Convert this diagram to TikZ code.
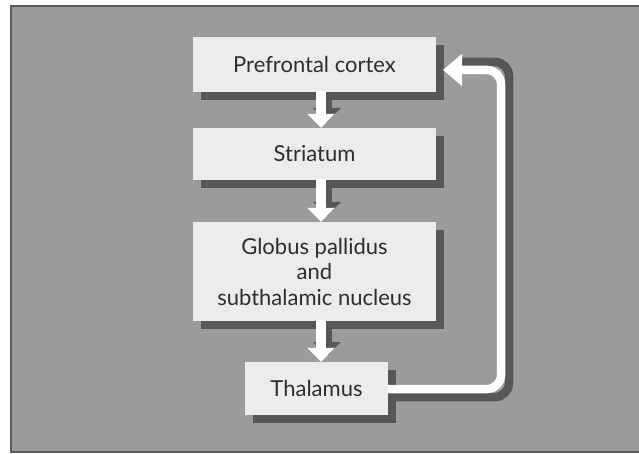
\documentclass[tikz,border=0pt]{standalone}
\usepackage{fontspec}
\setmainfont{Lato}
\usetikzlibrary{arrows.meta,shadows}
\definecolor{panelc}{HTML}{9B9B9B}
\definecolor{boxc}{HTML}{ECECEC}
\definecolor{shadc}{HTML}{575757}
\definecolor{txtc}{HTML}{2E2E2E}
\definecolor{framec}{HTML}{5A5A5A}
\tikzset{
  stagebox/.style={fill=boxc, draw=none, inner sep=0pt, align=center,
    font=\fontsize{22}{25.5}\selectfont, text=txtc,
    general shadow={fill=shadc, shadow xshift=8pt, shadow yshift=-8pt}},
  fatarrow/.style={draw=white, line width=10pt, -{Triangle[width=27pt,length=14pt]}, shorten <=-1pt},
  fatshadow/.style={draw=shadc, line width=10pt, -{Triangle[width=27pt,length=14pt]}},
  loopline/.style={draw=white, line width=8.5pt, rounded corners=14pt, -{Triangle[width=31pt,length=19pt]}},
  loopshadow/.style={draw=shadc, line width=8.5pt, rounded corners=14pt}
}
\begin{document}
\begin{tikzpicture}[x=1pt,y=-1pt]
\useasboundingbox (0,0) rectangle (639,454);
\fill[white] (0,0) rectangle (639,454);
\fill[panelc] (11,6) rectangle (642,452);
\draw[framec, line width=2pt] (642,6) -- (11,6) -- (11,452) -- (642,452);
% arrow shadows
\coordinate (a1s) at (321,92);  \coordinate (a1e) at (321,128);
\coordinate (a2s) at (321,180); \coordinate (a2e) at (321,222);
\coordinate (a3s) at (321,321); \coordinate (a3e) at (321,362);
\draw[fatshadow] ([shift={(6,-6)}]a1s) -- ([shift={(6,-6)}]a1e);
\draw[fatshadow] ([shift={(6,-6)}]a2s) -- ([shift={(6,-6)}]a2e);
\draw[fatshadow] ([shift={(6,-6)}]a3s) -- ([shift={(6,-6)}]a3e);
% loop shadow
\coordinate (l1) at (396,397);
\coordinate (l2) at (509,397);
\coordinate (l3) at (509,62);
\coordinate (l4) at (462,62);
\draw[loopshadow] (l1) -- (l2) -- (l3) -- (l4);
% boxes
\node[stagebox, minimum width=243pt, minimum height=55pt] (pfc) at (314.5,64.5) {Prefrontal cortex};
\node[stagebox, minimum width=243pt, minimum height=52pt] (str) at (314.5,154) {Striatum};
\node[stagebox, minimum width=243pt, minimum height=99pt] (gp) at (314.5,271.5) {Globus pallidus\\and\\subthalamic nucleus};
\node[stagebox, minimum width=143pt, minimum height=53pt] (thal) at (316.5,388.5) {Thalamus};
% arrows
\draw[fatarrow] (a1s) -- (str.north -| a1e);
\draw[fatarrow] (a2s) -- (gp.north -| a2e);
\draw[fatarrow] (a3s) -- (thal.north -| a3e);
\coordinate (r1) at (501,389);
\coordinate (r2) at (501,70);
\coordinate (tip) at (443,70);
\draw[loopline] (thal.east |- r1) -- (r1) -- (r2) -- (tip);
\end{tikzpicture}
\end{document}
